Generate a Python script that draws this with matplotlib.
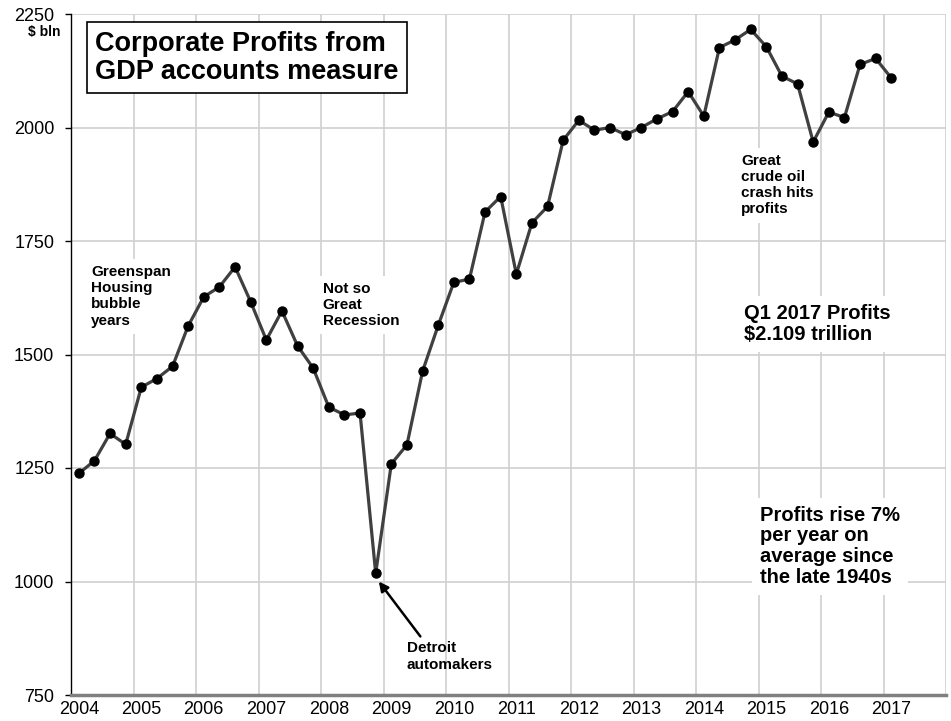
import matplotlib.pyplot as plt
import numpy as np

# quarterly corporate profits, $ bln, 2004 Q1 .. 2017 Q1
profits = [1238, 1266, 1326, 1302, 1428, 1447, 1474, 1563,
           1627, 1649, 1693, 1616, 1532, 1596, 1519, 1470,
           1384, 1367, 1371, 1018, 1259, 1301, 1463, 1564,
           1659, 1666, 1814, 1848, 1677, 1790, 1826, 1972,
           2016, 1994, 2000, 1984, 2000, 2019, 2035, 2079,
           2025, 2176, 2193, 2216, 2178, 2113, 2096, 1968,
           2034, 2022, 2139, 2152, 2109]
years = list(range(2004, 2018))
y_ticks = [750, 1000, 1250, 1500, 1750, 2000, 2250]

plt.rcParams['font.family'] = ['Liberation Sans', 'DejaVu Sans']

fig = plt.figure(figsize=(9.51, 7.21), dpi=100)
ax = fig.add_axes([71 / 951, 26 / 721, 875 / 951, 681 / 721])

x = np.arange(len(profits))
ax.plot(x, profits, color='#404040', lw=2.3, marker='o', ms=6.5,
        mfc='black', mec='black', zorder=3)

ax.set_xlim(-0.5, 55.5)
ax.set_ylim(750, 2250)
ax.set_yticks(y_ticks)
ax.set_xticks(np.arange(len(years)) * 4)
ax.set_xticklabels([str(y) for y in years])
ax.set_xticks(np.arange(3.5, 56, 4), minor=True)
ax.set_axisbelow(True)
ax.grid(axis='x', which='minor', color='#d0d0d0', lw=1.2)
ax.grid(axis='y', which='major', color='#d0d0d0', lw=1.2)
ax.tick_params(axis='x', which='both', length=0, labelsize=13, pad=4)
ax.tick_params(axis='y', length=4, width=1, direction='out', labelsize=13, pad=8)
ax.spines['top'].set_visible(False)
ax.spines['right'].set_visible(False)
ax.spines['left'].set_color('black')
ax.spines['left'].set_linewidth(1)
ax.spines['bottom'].set_color('#808080')
ax.spines['bottom'].set_linewidth(2.5)

fig.text(60 / 951, 1 - 32 / 721, '$ bln', ha='right', va='center',
         fontsize=10, fontweight='bold')

ax.text(10.75, 2154, 'Corporate Profits from\nGDP accounts measure',
        ha='center', va='center', multialignment='left', fontsize=19.5,
        fontweight='bold', linespacing=1.1, zorder=5,
        bbox=dict(boxstyle='square,pad=0.3', facecolor='white',
                  edgecolor='black', lw=1.2))

white = dict(boxstyle='square,pad=0.4', facecolor='white', edgecolor='none')
ax.text(0.8, 1697, 'Greenspan\nHousing\nbubble\nyears', ha='left', va='top',
        fontsize=11, fontweight='bold', linespacing=1.2, bbox=white, zorder=4)
ax.text(15.6, 1660, 'Not so\nGreat\nRecession', ha='left', va='top',
        fontsize=11, fontweight='bold', linespacing=1.2, bbox=white, zorder=4)
ax.text(42.4, 1942, 'Great\ncrude oil\ncrash hits\nprofits', ha='left', va='top',
        fontsize=11, fontweight='bold', linespacing=1.2, bbox=white, zorder=4)
ax.text(42.6, 1612, 'Q1 2017 Profits\n$2.109 trillion', ha='left', va='top',
        fontsize=14.5, fontweight='bold', linespacing=1.15, bbox=white, zorder=4)
ax.text(43.6, 1167, 'Profits rise 7%\nper year on\naverage since\nthe late 1940s',
        ha='left', va='top', fontsize=14.5, fontweight='bold', linespacing=1.12,
        bbox=white, zorder=4)

ax.annotate('Detroit\nautomakers', xy=(19.2, 1000), xytext=(21.0, 868),
            ha='left', va='top', fontsize=11, fontweight='bold',
            linespacing=1.2, zorder=4,
            arrowprops=dict(arrowstyle='-|>', color='black', lw=1.8,
                            mutation_scale=14, shrinkA=2, shrinkB=0,
                            relpos=(0.2, 1.0)))

fig.savefig('out.png', dpi=100)
